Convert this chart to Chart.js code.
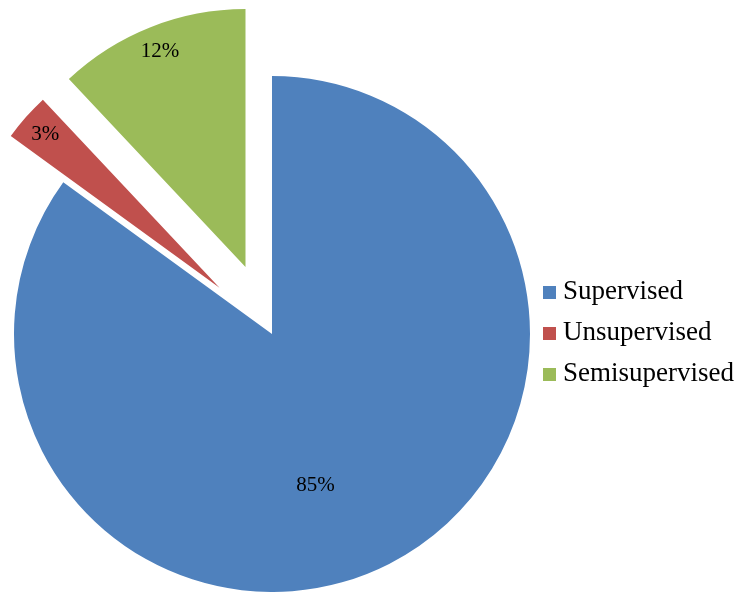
<!DOCTYPE html>
<html>
<head>
<meta charset="utf-8">
<title>Learning approaches</title>
<script src="https://cdn.jsdelivr.net/npm/chart.js@4.4.1/dist/chart.umd.min.js"></script>
<style>
  body { margin: 0; background: #fff; }
  #wrap { position: relative; width: 736px; height: 592px; }
  #legend {
    position: absolute; left: 543px; top: 270px;
    font-family: 'Liberation Serif', 'Times New Roman', serif;
    font-size: 27px; line-height: 41px; color: #000;
  }
  .item { white-space: nowrap; }
  .swatch { display: inline-block; width: 13px; height: 13px; margin-right: 7px; vertical-align: baseline; }
</style>
</head>
<body>
<div id="wrap">
  <canvas id="pie"></canvas>
  <div id="legend"></div>
</div>
<script>
// --- Data ---
const categories = ['Supervised', 'Unsupervised', 'Semisupervised'];
const shares = [85, 3, 12];

// --- Look ---
const colors = ['#4F81BD', '#C0504D', '#9BBB59'];
const explode = [0, 70, 72];            // px each slice is pulled out
const labelSpot = [                     // where the % label sits inside a slice
  { r: 0.61, turn: 11 },
  { r: 0.9, turn: 0 },
  { r: 0.9, turn: 0 }
];

// Draws slices pulled out along their bisector, then the % labels
const explodedSlices = {
  id: 'explodedSlices',
  beforeDatasetDraw(chart, args) {
    const ctx = chart.ctx;
    args.meta.data.forEach((arc, i) => {
      const mid = (arc.startAngle + arc.endAngle) / 2;
      ctx.save();
      ctx.translate(Math.cos(mid) * explode[i], Math.sin(mid) * explode[i]);
      arc.draw(ctx);
      ctx.restore();
    });
    return false;
  },
  afterDatasetsDraw(chart) {
    const ctx = chart.ctx;
    const arcs = chart.getDatasetMeta(0).data;
    ctx.save();
    ctx.font = "21px 'Liberation Serif', 'Times New Roman', serif";
    ctx.fillStyle = '#000';
    ctx.textAlign = 'center';
    ctx.textBaseline = 'middle';
    arcs.forEach((arc, i) => {
      const mid = (arc.startAngle + arc.endAngle) / 2;
      const a = mid + labelSpot[i].turn * Math.PI / 180;
      const cx = arc.x + Math.cos(mid) * explode[i];
      const cy = arc.y + Math.sin(mid) * explode[i];
      const rr = arc.outerRadius * labelSpot[i].r;
      ctx.fillText(shares[i] + '%', cx + Math.cos(a) * rr, cy + Math.sin(a) * rr);
    });
    ctx.restore();
  }
};

new Chart(document.getElementById('pie'), {
  type: 'pie',
  data: {
    labels: categories,
    datasets: [{
      data: shares,
      backgroundColor: colors,
      borderWidth: 0,
      clip: false
    }]
  },
  options: {
    responsive: true,
    maintainAspectRatio: false,
    animation: false,
    radius: 258,
    layout: { padding: { left: 0, right: 192, top: 76, bottom: 0 } },
    plugins: {
      legend: { display: false },
      tooltip: { enabled: false }
    }
  },
  plugins: [explodedSlices]
});

// Legend on the right
const legend = document.getElementById('legend');
categories.forEach((name, i) => {
  const row = document.createElement('div');
  row.className = 'item';
  const sw = document.createElement('span');
  sw.className = 'swatch';
  sw.style.background = colors[i];
  row.appendChild(sw);
  row.appendChild(document.createTextNode(name));
  legend.appendChild(row);
});
</script>
</body>
</html>
